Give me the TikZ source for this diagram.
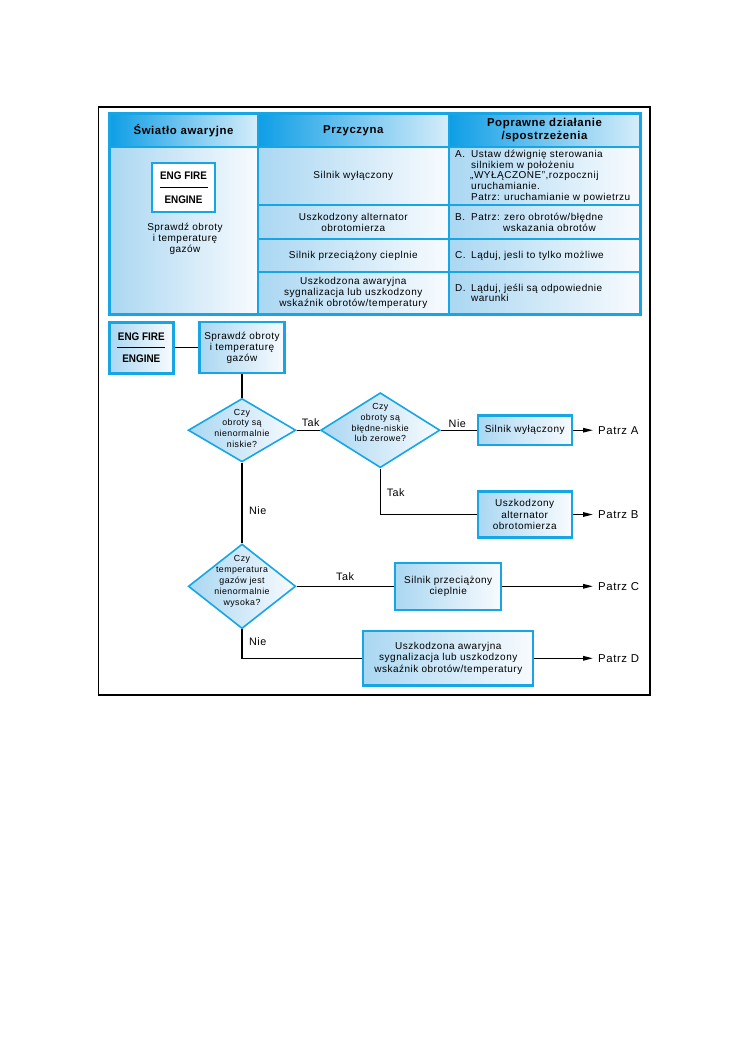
\documentclass[tikz,border=0pt]{standalone}
\usepackage{fontspec}
\setmainfont[LetterSpace=5]{Liberation Sans}
\newfontfamily\engfont[FakeStretch=0.9]{Liberation Sans}
\usetikzlibrary{shapes.geometric,arrows.meta}
\definecolor{cy}{RGB}{22,166,230}
\definecolor{hdark}{RGB}{14,158,230}
\definecolor{hmid}{RGB}{90,188,238}
\definecolor{hlight}{RGB}{214,237,250}
\definecolor{blight}{RGB}{170,215,242}
\definecolor{wlight}{RGB}{248,251,254}
\tikzset{
  txt/.style={font=\fontsize{10}{11}\selectfont, align=center, inner sep=0},
  ltxt/.style={font=\fontsize{10}{10.7}\selectfont, align=left, inner sep=0, anchor=west},
  hdr/.style={font=\fontsize{11.4}{13}\selectfont\bfseries, align=center, inner sep=0},
  hcell/.style={left color=hdark, middle color=hmid, right color=hlight},
  bcell/.style={left color=blight, right color=wlight},
  fbox/.style={draw=cy, line width=2.2, left color=blight, right color=wlight, inner sep=0, align=center, font=\fontsize{10}{11.2}\selectfont},
  engrule/.style={path picture={\draw[black,line width=1] ([xshift=-24pt]path picture bounding box.center) -- ([xshift=24pt]path picture bounding box.center);}},
  engtxt/.style={align=center, inner sep=0, font=\engfont\bfseries\fontsize{11}{11}\selectfont},
  dia/.style={diamond, draw=cy, line width=1.6, left color=blight, right color=wlight, inner sep=0},
  dtext/.style={font=\fontsize{8.8}{10.8}\selectfont, align=center, inner sep=0},
  conn/.style={line width=1.3},
  arr/.style={conn, -{Triangle[length=10pt,width=4.5pt]}},
  yn/.style={font=\fontsize{10.8}{12}\selectfont, inner sep=0},
  patrz/.style={font=\fontsize{11.4}{13}\selectfont, anchor=west, inner xsep=5pt, inner ysep=0},
}
\begin{document}
\begin{tikzpicture}[x=1pt,y=-1pt]
\useasboundingbox (0,0) rectangle (749,1064);
\fill[white] (0,0) rectangle (749,1064);
% outer frame
\draw[line width=1.3] (98.5,107) rectangle (650,695);
% ---------- table ----------
\shade[hcell] (109.5,113.5) rectangle (257.5,147);
\shade[hcell] (257.5,113.5) rectangle (449,147);
\shade[hcell] (449,113.5) rectangle (640,147);
\shade[bcell] (109.5,147) rectangle (257.5,314);
\shade[bcell] (257.5,147) rectangle (449,205.5);
\shade[bcell] (257.5,205.5) rectangle (449,239);
\shade[bcell] (257.5,239) rectangle (449,272);
\shade[bcell] (257.5,272) rectangle (449,314);
\shade[bcell] (449,147) rectangle (640,205.5);
\shade[bcell] (449,205.5) rectangle (640,239);
\shade[bcell] (449,239) rectangle (640,272);
\shade[bcell] (449,272) rectangle (640,314);
\draw[cy,line width=2] (109.5,147) -- (640,147);
\draw[cy,line width=2] (257.5,205.5) -- (640,205.5);
\draw[cy,line width=2] (257.5,239) -- (640,239);
\draw[cy,line width=2] (257.5,272) -- (640,272);
\draw[cy,line width=2] (257.5,113.5) -- (257.5,314);
\draw[cy,line width=2] (449,113.5) -- (449,314);
\draw[cy,line width=3] (109.5,113.5) rectangle (640,314);
% headers
\node[hdr] (h1) at (183.5,130.5) {Światło awaryjne};
\node[hdr] (h2) at (353.3,130.5) {Przyczyna};
\node[hdr] (h3) at (544.5,130.5) {Poprawne działanie\\/spostrzeżenia};
% column 1
\node[draw=cy, line width=1.6, fill=white, minimum width=63, minimum height=49.5, engrule, engtxt] (teng) at (183.5,187.5) {ENG FIRE\\[13pt]ENGINE};
\node[txt] (tspr) at (185,239) {Sprawdź obroty\\i temperaturę\\gazów};
% column 2
\node[txt] (c1) at (353.3,176.3) {Silnik wyłączony};
\node[txt] (c2) at (353.3,222.3) {Uszkodzony alternator\\obrotomierza};
\node[txt] (c3) at (353.3,255.5) {Silnik przeciążony cieplnie};
\node[txt] (c4) at (353.3,292.5) {Uszkodzona awaryjna\\sygnalizacja lub uszkodzony\\wskaźnik obrotów/temperatury};
% column 3
\node[ltxt] (a1) at (455,176.3) {\makebox[16pt][l]{A.}Ustaw dźwignię sterowania\\\hspace*{16pt}silnikiem w położeniu\\\hspace*{15pt}„WYŁĄCZONE",rozpocznij\\\hspace*{16pt}uruchamianie.\\\hspace*{16pt}Patrz: uruchamianie w powietrzu};
\node[ltxt] (a2) at (455,222.3) {\makebox[16pt][l]{B.}Patrz: zero obrotów/błędne\\\hspace*{48pt}wskazania obrotów};
\node[ltxt] (a3) at (455,255.5) {\makebox[16pt][l]{C.}Ląduj, jesli to tylko możliwe};
\node[ltxt] (a4) at (455,293) {\makebox[16pt][l]{D.}Ląduj, jeśli są odpowiednie\\\hspace*{16pt}warunki};
% ---------- flowchart ----------
\node[draw=cy, line width=2.4, left color=blight, right color=wlight, minimum width=64, minimum height=51, engrule, engtxt] (eng) at (141.3,347.8) {ENG FIRE\\[11.6pt]ENGINE};
\node[fbox, minimum width=85, minimum height=51] (spr) at (242,347.8) {Sprawdź obroty\\i temperaturę\\gazów};
\node[dia, minimum width=107.7, minimum height=63.4] (d1) at (242,430.2) {};
\node[dtext, yshift=2pt] (d1t) at (d1.center) {Czy\\obroty są\\nienormalnie\\niskie?};
\node[dia, minimum width=119.3, minimum height=75] (d2) at (380.3,430.2) {};
\node[dtext, yshift=7.5pt] (d2t) at (d2.center) {Czy\\obroty są\\błędne-niskie\\lub zerowe?};
\node[dia, minimum width=107.4, minimum height=84.6] (d3) at (242,586.3) {};
\node[dtext, yshift=5pt] (d3t) at (d3.center) {Czy\\temperatura\\gazów jest\\nienormalnie\\wysoka?};
\node[fbox, minimum width=94, minimum height=29.5] (b1) at (524.7,430.2) {Silnik wyłączony};
\node[fbox, minimum width=94, minimum height=46] (b2) at (524.7,514.5) {Uszkodzony\\alternator\\obrotomierza};
\node[fbox, minimum width=105.7, minimum height=46.7] (b3) at (448.2,586.3) {Silnik przeciążony\\cieplnie};
\node[fbox, minimum width=170, minimum height=54.3] (b4) at (448.3,658.3) {Uszkodzona awaryjna\\sygnalizacja lub uszkodzony\\wskaźnik obrotów/temperatury};
\node[patrz] (pA) at (593,430.2) {Patrz A};
\node[patrz] (pB) at (593,514.5) {Patrz B};
\node[patrz] (pC) at (593,586.3) {Patrz C};
\node[patrz] (pD) at (593,658.3) {Patrz D};
% connectors
\draw[conn] (eng.east) -- (spr.west);
\draw[conn] (spr.south) -- (d1.north);
\draw[conn] (d1.east) -- (d2.west);
\draw[conn] (d2.east) -- (b1.west);
\draw[conn] (d2.south) |- (b2.west);
\draw[conn] (d1.south) -- (d3.north);
\draw[conn] (d3.east) -- (b3.west);
\draw[conn] (d3.south) |- (b4.west);
\draw[arr] (b1.east) -- (pA.west);
\draw[arr] (b2.east) -- (pB.west);
\draw[arr] (b3.east) -- (pC.west);
\draw[arr] (b4.east) -- (pD.west);
% labels
\node[yn] (l1) at (310.7,422.5) {Tak};
\node[yn] (l2) at (457.3,423.3) {Nie};
\node[yn] (l3) at (395.7,492.3) {Tak};
\node[yn] (l4) at (257.7,510.5) {Nie};
\node[yn] (l5) at (345,577) {Tak};
\node[yn] (l6) at (257.7,642) {Nie};
\end{tikzpicture}
\end{document}
